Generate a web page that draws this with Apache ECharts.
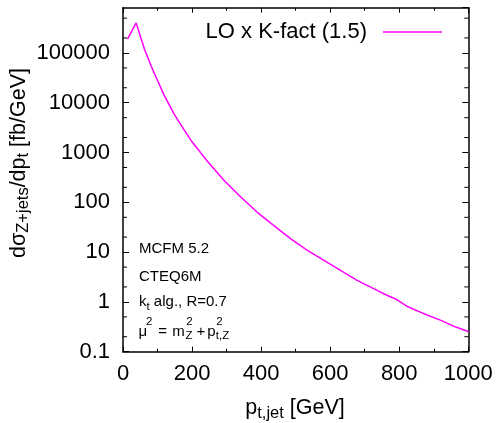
<!DOCTYPE html>
<html><head><meta charset="utf-8">
<script src="https://cdn.jsdelivr.net/npm/echarts@6/dist/echarts.min.js"></script>
<style>html,body{margin:0;padding:0;background:#fff}#c{width:497px;height:423px}</style>
</head><body><div id="c"></div>
<script>
// ---- data ----
const ptJet  = [13, 38, 52, 62, 81, 100, 119, 148, 177, 197, 245, 293, 341, 389, 437, 486, 534, 582, 630, 678, 726, 764, 788, 822, 871, 919, 962, 1000];
const dSigma = [1.9e5, 4.0e5, 2.0e5, 1.2e5, 5.6e4, 2.8e4, 1.42e4, 5900, 2850, 1750, 660, 275, 128, 63, 34, 18.5, 10.8, 6.8, 4.3, 2.7, 1.85, 1.36, 1.16, 0.82, 0.58, 0.43, 0.316, 0.255];
const seriesName = 'LO x K-fact (1.5)';
const xRange = [0, 1000];
const xMajorStep = 200;
const yRange = [0.1, 8.1e5];
const yMinorTicks = [0.2, 0.5, 2, 5, 20, 50, 200, 500, 2000, 5000, 20000, 50000, 200000, 500000];
const noteLines = ['MCFM 5.2', 'CTEQ6M'];

const FONT = 'Liberation Sans, Arial, Helvetica, sans-serif';
const chart = echarts.init(document.getElementById('c'), null, {renderer: 'canvas'});

const axisLineStyle = {color: '#000', width: 1.5};
function xAxisCfg(pos, showLabel) {
  return {
    type: 'value', position: pos, min: xRange[0], max: xRange[1], interval: xMajorStep,
    axisLine: {show: true, onZero: false, lineStyle: axisLineStyle},
    axisTick: {show: true, inside: true, length: 5, lineStyle: {color: '#000', width: 1}},
    minorTick: {show: true, splitNumber: 2, length: 3, lineStyle: {color: '#000', width: 1}},
    splitLine: {show: false}, minorSplitLine: {show: false},
    axisLabel: {show: showLabel, fontSize: 22, fontFamily: FONT, color: '#000', margin: 11,
      formatter: function (v) { return String(v); }}
  };
}
function yAxisCfg(pos, showLabel) {
  return {
    type: 'log', logBase: 10, position: pos, min: yRange[0], max: yRange[1],
    axisLine: {show: true, onZero: false, lineStyle: axisLineStyle},
    axisTick: {show: true, inside: true, length: 6, lineStyle: {color: '#000', width: 1}},
    minorTick: {show: false},
    splitLine: {show: false},
    axisLabel: {
      show: showLabel, fontSize: 22, fontFamily: FONT, color: '#000', margin: 13,
      showMaxLabel: false,
      formatter: function (v) {
        const l = Math.log10(v);
        if (Math.abs(l - Math.round(l)) > 1e-6) return '';
        return String(Number(Number(v).toPrecision(6)));
      }
    }
  };
}

const option = {
  animation: false,
  backgroundColor: '#fff',
  grid: {left: 123, top: 7.7, width: 345.3, height: 344, outerBoundsMode: 'none', containLabel: false},
  xAxis: [xAxisCfg('bottom', true), xAxisCfg('top', false)],
  yAxis: [yAxisCfg('left', true), yAxisCfg('right', false)],
  legend: {
    data: [seriesName], right: 55, top: 21, padding: 0, align: 'right',
    icon: 'rect', itemWidth: 59, itemHeight: 1.5, selectedMode: false,
    textStyle: {fontSize: 22, fontFamily: FONT, color: '#000', padding: [0, 11, 0, 0]}
  },
  series: [
    {
      name: seriesName, type: 'line', xAxisIndex: 0, yAxisIndex: 0,
      data: ptJet.map((p, i) => [p, dSigma[i]]),
      symbol: 'none', smooth: false,
      lineStyle: {color: '#ff00ff', width: 1.5}, itemStyle: {color: '#ff00ff'}
    },
    {
      name: 'minor', type: 'custom', xAxisIndex: 0, yAxisIndex: 0, silent: true, z: 5,
      data: yMinorTicks.map(v => [xRange[0], v]),
      encode: {x: 0, y: 1},
      renderItem: function (params, api) {
        const v = api.value(1);
        const pL = api.coord([xRange[0], v]);
        const pR = api.coord([xRange[1], v]);
        return {type: 'group', children: [
          {type: 'line', shape: {x1: pL[0], y1: pL[1], x2: pL[0] + 4, y2: pL[1]}, style: {stroke: '#000', lineWidth: 1}},
          {type: 'line', shape: {x1: pR[0] - 4, y1: pR[1], x2: pR[0], y2: pR[1]}, style: {stroke: '#000', lineWidth: 1}}
        ]};
      }
    }
  ],
  graphic: [
    // y axis title
    {type: 'text', x: 19.3, y: 163, rotation: Math.PI / 2, style: {
      text: '{m|dσ}{s|Z+jets}{m|/dp}{s|t}{m| [fb/GeV]}', align: 'center', verticalAlign: 'middle',
      rich: {
        m: {fontSize: 21.5, fontFamily: FONT, fill: '#000', lineHeight: 26, verticalAlign: 'middle'},
        s: {fontSize: 16.5, fontFamily: FONT, fill: '#000', verticalAlign: 'bottom'}
      }
    }},
    // x axis title
    {type: 'text', x: 295, y: 408.5, style: {
      text: '{m|p}{s|t,jet}{m| [GeV]}', align: 'center', verticalAlign: 'middle',
      rich: {
        m: {fontSize: 21.5, fontFamily: FONT, fill: '#000', lineHeight: 26, verticalAlign: 'middle'},
        s: {fontSize: 16.5, fontFamily: FONT, fill: '#000', verticalAlign: 'bottom'}
      }
    }},
    // notes
    {type: 'text', x: 139, y: 248.8, style: {text: noteLines[0], fontSize: 15, fontFamily: FONT, fill: '#000', align: 'left', verticalAlign: 'middle'}},
    {type: 'text', x: 139, y: 276.5, style: {text: noteLines[1], fontSize: 15, fontFamily: FONT, fill: '#000', align: 'left', verticalAlign: 'middle'}},
    {type: 'text', x: 139, y: 301.5, style: {
      text: '{m|k}{s|t}{m| alg., R=0.7}', align: 'left', verticalAlign: 'middle',
      rich: {
        m: {fontSize: 15, fontFamily: FONT, fill: '#000', lineHeight: 22.4, verticalAlign: 'middle'},
        s: {fontSize: 11.5, fontFamily: FONT, fill: '#000', verticalAlign: 'bottom'}
      }
    }},
    // mu^2 = m_Z^2 + p_{t,Z}^2
    {type: 'text', x: 138.5, y: 332.3, style: {text: 'μ', fontSize: 15, fontFamily: FONT, fill: '#000', align: 'left', verticalAlign: 'middle'}},
    {type: 'text', x: 146, y: 322.2, style: {text: '2', fontSize: 11.5, fontFamily: FONT, fill: '#000', align: 'left', verticalAlign: 'middle'}},
    {type: 'text', x: 158.3, y: 332.3, style: {text: '=', fontSize: 15, fontFamily: FONT, fill: '#000', align: 'left', verticalAlign: 'middle'}},
    {type: 'text', x: 172.3, y: 332.3, style: {text: 'm', fontSize: 15, fontFamily: FONT, fill: '#000', align: 'left', verticalAlign: 'middle'}},
    {type: 'text', x: 186.3, y: 322.2, style: {text: '2', fontSize: 11.5, fontFamily: FONT, fill: '#000', align: 'left', verticalAlign: 'middle'}},
    {type: 'text', x: 185.5, y: 336.2, style: {text: 'Z', fontSize: 11.5, fontFamily: FONT, fill: '#000', align: 'left', verticalAlign: 'middle'}},
    {type: 'text', x: 196.5, y: 332.3, style: {text: '+', fontSize: 15, fontFamily: FONT, fill: '#000', align: 'left', verticalAlign: 'middle'}},
    {type: 'text', x: 207.2, y: 332.3, style: {text: 'p', fontSize: 15, fontFamily: FONT, fill: '#000', align: 'left', verticalAlign: 'middle'}},
    {type: 'text', x: 216.3, y: 322.2, style: {text: '2', fontSize: 11.5, fontFamily: FONT, fill: '#000', align: 'left', verticalAlign: 'middle'}},
    {type: 'text', x: 215.8, y: 336.2, style: {text: 't,Z', fontSize: 11.5, fontFamily: FONT, fill: '#000', align: 'left', verticalAlign: 'middle'}}
  ]
};
chart.setOption(option);
</script>
</body></html>
